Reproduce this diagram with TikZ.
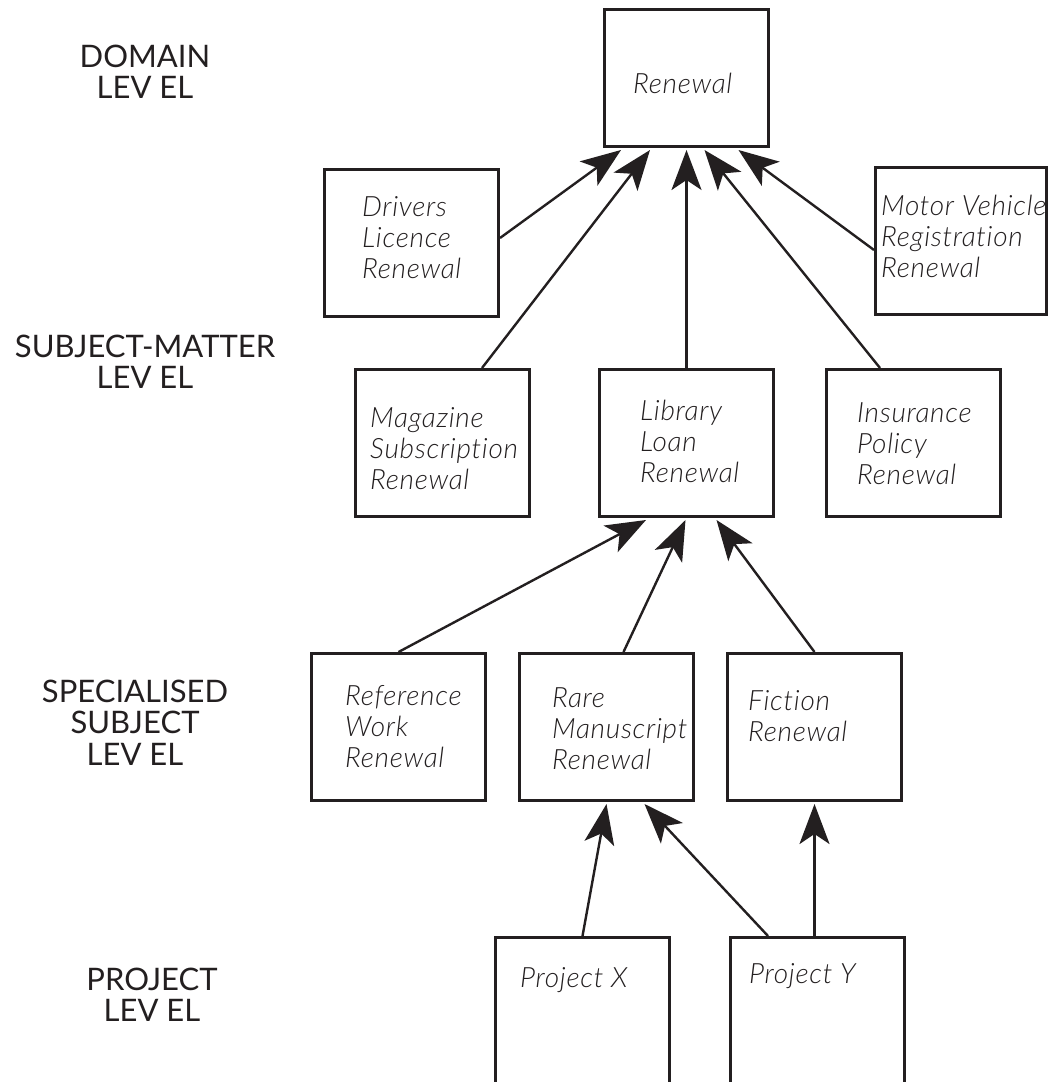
\documentclass[tikz,border=0pt]{standalone}
\usepackage{fontspec}
\usetikzlibrary{arrows.meta,calc}
\newfontfamily\levelfont{Lato}
\newfontfamily\handfont{Lato Light Italic}[LetterSpace=2.5,Ligatures=NoCommon]
\definecolor{ink}{RGB}{35,31,32}
% stacked lines whose first baseline is the node baseline
\newcommand\stack[2][l]{\begin{tabular}[t]{@{}#1@{}}#2\end{tabular}}

\begin{document}
\begin{tikzpicture}[x=1pt,y=-1pt,
  box/.style={draw=ink, line width=3pt, anchor=north west, inner sep=0pt,
              minimum width=174pt, minimum height=147pt},
  caption/.style={anchor=base west, inner sep=0pt, text=ink,
              font=\handfont\fontsize{28}{31}\selectfont},
  level/.style={anchor=base, inner sep=0pt, text=ink,
              font=\levelfont\fontsize{31}{31}\selectfont},
  arr/.style={draw=ink, line width=2.4pt,
              -{Stealth[length=40pt,width=30pt,inset=10pt]}}]

\useasboundingbox (0,0) rectangle (1049,1082);
\clip (0,0) rectangle (1049,1082);

% level captions
\node[level] (lvdomain)  at (145,67)  {\stack[c]{DOMAIN\\LEV EL}};
\node[level] (lvsubject) at (145,357) {\stack[c]{SUBJECT-MATTER\\LEV EL}};
\node[level] (lvspec)    at (135,702) {\stack[c]{SPECIALISED\\SUBJECT\\LEV EL}};
\node[level] (lvproject) at (152,990) {\stack[c]{PROJECT\\LEV EL}};

% domain level
\node[box, minimum width=164pt, minimum height=137pt] (renewal) at (603,8) {};
\node[caption] (renewalT) at ($(renewal.north west)+(30,85)$) {Renewal};

% subject-matter level
\node[box] (drivers) at (323,168) {};
\node[caption] (driversT) at ($(drivers.north west)+(39,48)$) {\stack{Drivers\\Licence\\Renewal}};
\node[box, minimum width=171pt] (motor) at (874,166) {};
\node[caption] (motorT) at ($(motor.north west)+(7,49)$) {\stack{Motor Vehicle\\Registration\\Renewal}};
\node[box] (magazine) at (354,368) {};
\node[caption] (magazineT) at ($(magazine.north west)+(16,59)$) {\stack{Magazine\\Subscription\\Renewal}};
\node[box] (library) at (598,368) {};
\node[caption] (libraryT) at ($(library.north west)+(42,52)$) {\stack{Library\\Loan\\Renewal}};
\node[box] (insurance) at (825,368) {};
\node[caption] (insuranceT) at ($(insurance.north west)+(32,54)$) {\stack{Insurance\\Policy\\Renewal}};

% specialised subject level
\node[box] (reference) at (310,652) {};
\node[caption] (referenceT) at ($(reference.north west)+(35,53)$) {\stack{Reference\\Work\\Renewal}};
\node[box] (rare) at (518,652) {};
\node[caption] (rareT) at ($(rare.north west)+(34,55)$) {\stack{Rare\\Manuscript\\Renewal}};
\node[box] (fiction) at (726,652) {};
\node[caption] (fictionT) at ($(fiction.north west)+(22,58)$) {\stack{Fiction\\Renewal}};

% project level (boxes run off the lower edge)
\node[box, minimum height=170pt] (projx) at (494,936) {};
\node[caption] (projxT) at ($(projx.north west)+(26,51)$) {Project X};
\node[box, minimum height=170pt] (projy) at (729,936) {};
\node[caption] (projyT) at ($(projy.north west)+(20,47)$) {Project Y};

% specialisation arrows
\draw[arr] ($(drivers.north east)+(0,70)$)   -- ($(renewal.south west)+(18,2)$);
\draw[arr] ($(magazine.north west)+(128,0)$) -- ($(renewal.south west)+(47,2)$);
\draw[arr] (library.north)                   -- ($(renewal.south)+(0,2)$);
\draw[arr] ($(insurance.north west)+(55,0)$) -- ($(renewal.south)+(18,2)$);
\draw[arr] ($(motor.north west)+(0,84)$)     -- ($(renewal.south)+(52,2)$);

\draw[arr] (reference.north)          -- ($(library.south west)+(48,2)$);
\draw[arr] ($(rare.north)+(17,0)$)    -- ($(library.south)+(-1,2)$);
\draw[arr] (fiction.north)            -- ($(library.south)+(30,2)$);

\draw[arr] (projx.north)                  -- ($(rare.south)+(0,2)$);
\draw[arr] ($(projy.north west)+(39,0)$)  -- ($(rare.south)+(38,2)$);
\draw[arr] ($(projy.north)+(-3,0)$)       -- ($(fiction.south)+(0,2)$);
\end{tikzpicture}
\end{document}
